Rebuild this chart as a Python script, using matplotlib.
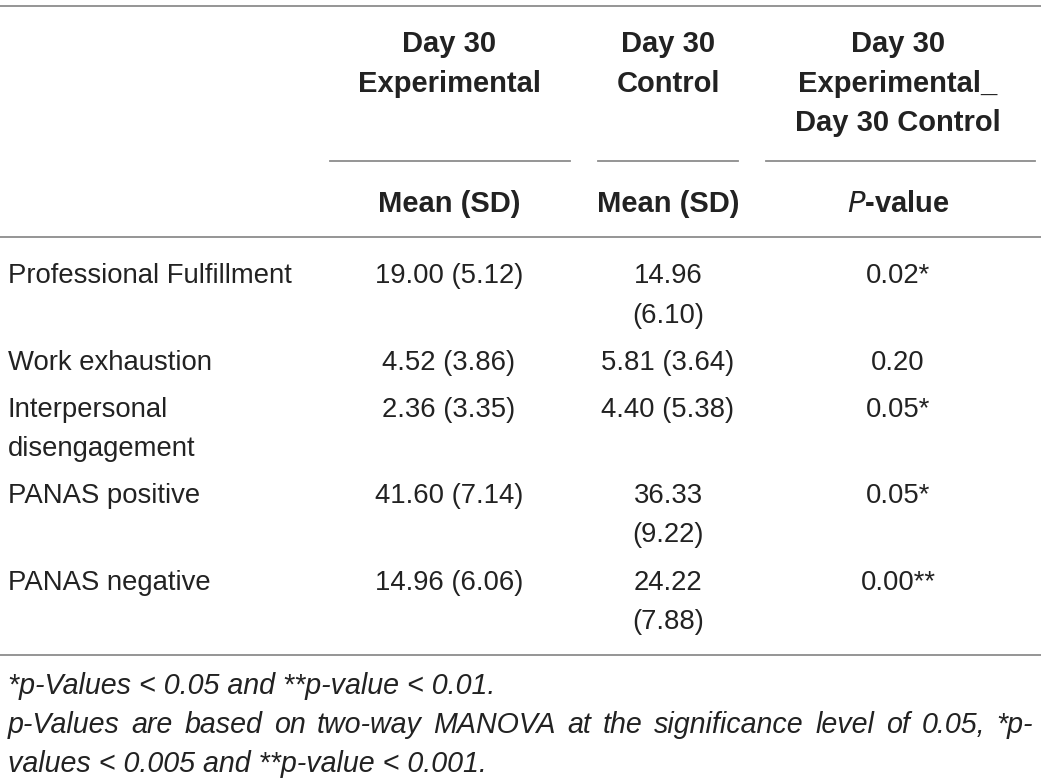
import textwrap
import matplotlib.pyplot as plt

plt.rcParams['font.family'] = ['Liberation Sans', 'DejaVu Sans']

# table content
col_heads = ["Day 30 Experimental", "Day 30 Control", "Day 30 Experimental_ Day 30 Control"]
sub_heads = ["Mean (SD)", "Mean (SD)", "$\\it{P}$-value"]
measures = ["Professional Fulfillment", "Work exhaustion", "Interpersonal disengagement",
            "PANAS positive", "PANAS negative"]
exp_mean = [19.00, 4.52, 2.36, 41.60, 14.96]
exp_sd = [5.12, 3.86, 3.35, 7.14, 6.06]
ctl_mean = [14.96, 5.81, 4.40, 36.33, 24.22]
ctl_sd = [6.10, 3.64, 5.38, 9.22, 7.88]
p_vals = [0.02, 0.20, 0.05, 0.05, 0.00]
p_stars = ["*", "", "*", "*", "**"]
notes = ["*p-Values < 0.05 and **p-value < 0.01.",
         "p-Values are based on two-way MANOVA at the significance level of 0.05, *p-",
         "values < 0.005 and **p-value < 0.001."]

W, H = 1041, 779
fig = plt.figure(figsize=(W / 100, H / 100), dpi=100)
ax = fig.add_axes([0, 0, 1, 1])
ax.set_xlim(0, W)
ax.set_ylim(H, 0)
ax.axis('off')

txt = '#222222'
rule = '#8c8c8c'
fs = 19.8
hfs = 21
nfs = 20.6
lh = 39.5

col_x = [449, 668, 898]
col_span = [(330, 570), (598, 738), (766, 1035)]
col_wrap = [20, 11, 14]
head_wrap = [12, 12, 14]

ax.plot([0, W], [6, 6], color=rule, lw=1.3)

# header
for j, h in enumerate(col_heads):
    lines = textwrap.wrap(h, head_wrap[j]) if j < 2 else ["Day 30", "Experimental_", "Day 30 Control"]
    for k, ln in enumerate(lines):
        ax.text(col_x[j], 52 + k * lh, ln, ha='center', va='baseline', fontsize=hfs,
                fontweight='bold', color=txt)
    ax.plot(col_span[j], [161, 161], color=rule, lw=1.3)
    ax.text(col_x[j], 212, sub_heads[j], ha='center', va='baseline', fontsize=hfs,
            fontweight='bold', color=txt)

ax.plot([0, W], [237, 237], color=rule, lw=1.3)

# body
y = 283
for i, m in enumerate(measures):
    cells = [textwrap.wrap(m, 25),
             textwrap.wrap(f"{exp_mean[i]:.2f} ({exp_sd[i]:.2f})", col_wrap[0]),
             textwrap.wrap(f"{ctl_mean[i]:.2f} ({ctl_sd[i]:.2f})", col_wrap[1]),
             [f"{p_vals[i]:.2f}{p_stars[i]}"]]
    for c, lines in enumerate(cells):
        for k, ln in enumerate(lines):
            if c == 0:
                ax.text(8, y + k * lh, ln, ha='left', va='baseline', fontsize=fs, color=txt)
            else:
                ax.text(col_x[c - 1], y + k * lh, ln, ha='center', va='baseline',
                        fontsize=fs, color=txt)
    n = max(len(l) for l in cells)
    y += n * lh + 7.5

ax.plot([0, W], [655, 655], color=rule, lw=1.3)

# footnotes, middle line justified to the full width
renderer = fig.canvas.get_renderer()
for k, ln in enumerate(notes):
    yb = 694 + k * 39
    if k != 1:
        ax.text(8, yb, ln, ha='left', va='baseline', fontsize=nfs,
                fontstyle='italic', color=txt)
        continue
    words = ln.split(' ')
    arts = [ax.text(0, yb, w, ha='left', va='baseline', fontsize=nfs,
                    fontstyle='italic', color=txt) for w in words]
    widths = [a.get_window_extent(renderer).width for a in arts]
    gap = (1033 - 8 - sum(widths)) / (len(words) - 1)
    x = 8
    for a, w in zip(arts, widths):
        a.set_x(x)
        x += w + gap

fig.savefig('out.png', dpi=100)
